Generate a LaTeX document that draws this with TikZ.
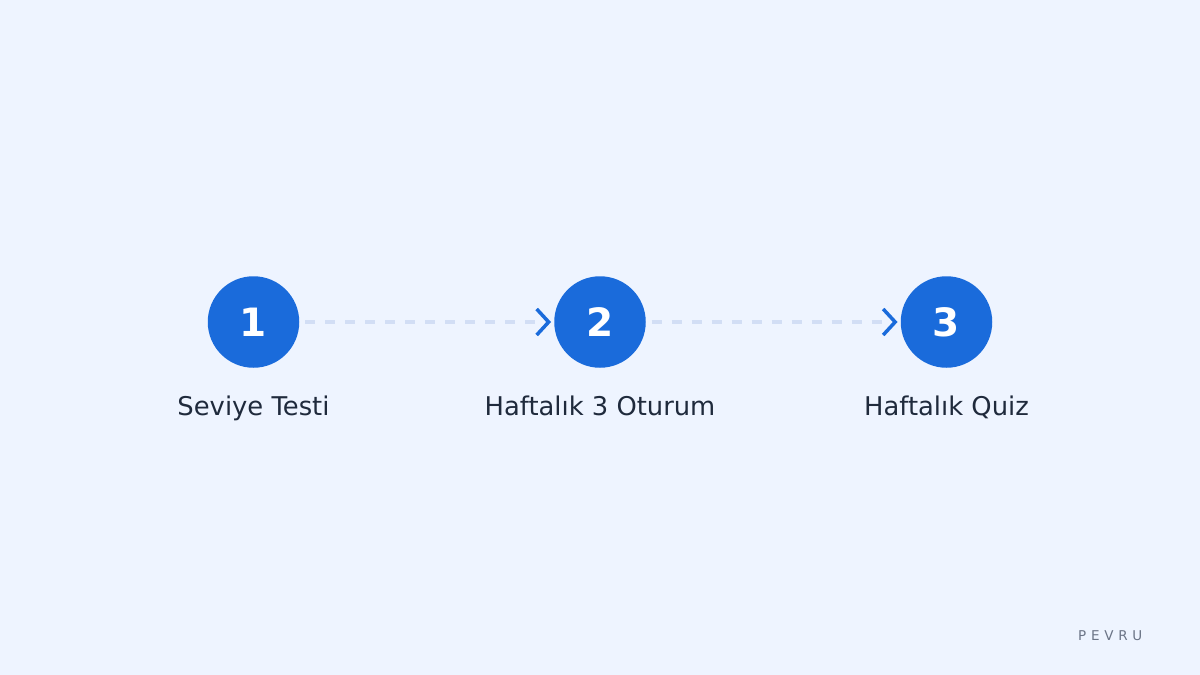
\documentclass[tikz,border=0pt]{standalone}
\usepackage{fontspec}
\setmainfont{DejaVu Sans}
\usepackage{xcolor}
\usetikzlibrary{arrows.meta}

\definecolor{bgblue}{HTML}{EEF4FF}
\definecolor{stepblue}{HTML}{1A6BDB}
\definecolor{dashblue}{HTML}{D2DEF5}
\definecolor{labeltext}{HTML}{1F2A3C}
\definecolor{brandgray}{HTML}{6B7486}

\begin{document}
\begin{tikzpicture}[
			x=1pt, y=-1pt,
			stepcircle/.style={circle, fill=stepblue, minimum size=91.5pt, inner sep=0pt, text=white, font=\fontsize{39}{44}\selectfont\bfseries},
			steplabel/.style={anchor=base, text=labeltext, font=\fontsize{25.8}{30}\selectfont},
			arrow/.style={dashblue, line width=4pt, dash pattern=on 10pt off 10pt, shorten <=6pt, shorten >=3pt,
				-{Straight Barb[length=12pt, width=26pt, line width=3.5pt, color=stepblue]}},
			brand/.style={anchor=base west, text=brandgray, font=\fontsize{13.5}{15}\selectfont\addfontfeature{LetterSpace=35}}
		]

		% Background
		\fill[bgblue] (0,0) rectangle (1200,675);
		\useasboundingbox (0,0) rectangle (1200,675);

		% Steps
		\node[stepcircle] (s1) at (253.5,322) {1};
		\node[stepcircle] (s2) at (600,322) {2};
		\node[stepcircle] (s3) at (946.5,322) {3};

		% Labels
		\node[steplabel] (l1) at (253.5,415) {Seviye Testi};
		\node[steplabel] (l2) at (600,415) {Haftalık 3 Oturum};
		\node[steplabel] (l3) at (946.5,415) {Haftalık Quiz};

		% Arrows
		\draw[arrow] (s1) -- (s2);
		\draw[arrow] (s2) -- (s3);

		% Brand
		\node[brand, inner sep=0pt] (logo) at (1078,640) {PEVRU};

	\end{tikzpicture}
\end{document}
